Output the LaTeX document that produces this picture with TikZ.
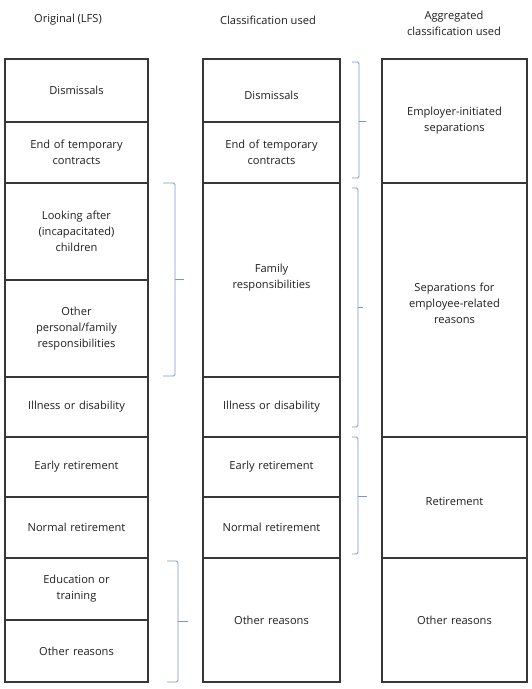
\documentclass[tikz,border=0pt]{standalone}
\usepackage{fontspec}
\setmainfont{Open Sans}

\definecolor{boxgrey}{RGB}{55,55,55}
\definecolor{braceblue}{RGB}{125,150,200}
\definecolor{textgrey}{RGB}{30,30,30}

\tikzset{
    cell/.style={draw=boxgrey, line width=1.3pt, align=center,
        inner sep=0pt, outer sep=0pt, text width=130pt, text=textgrey,
        font=\fontsize{11.1}{16}\selectfont},
    head/.style={align=center, text=textgrey, font=\fontsize{11.1}{16}\selectfont},
    brace/.style={draw=braceblue, line width=0.9pt, rounded corners=1.5pt}
}

\begin{document}
\begin{tikzpicture}[x=1pt, y=-1pt]

    % Page frame
    \useasboundingbox (0,0) rectangle (532,689);

    % Column headings
    \node[head] (hdorig) at (68,20) {Original (LFS)};
    \node[head] (hdclass) at (268,20) {Classification used};
    \node[head] (hdagg) at (454,23) {Aggregated\\classification used};

    % First column: original LFS reasons
    \node[cell, minimum width=143pt, minimum height=63pt] (dis1) at (76.5,90.5) {Dismissals};
    \node[cell, minimum width=143pt, minimum height=61pt] (end1) at (76.5,152.5) {End of temporary\\contracts};
    \node[cell, minimum width=143pt, minimum height=97pt] (look1) at (76.5,231.5) {Looking after\\(incapacitated)\\children};
    \node[cell, minimum width=143pt, minimum height=97pt] (pers1) at (76.5,328.5) {Other\\personal/family\\responsibilities};
    \node[cell, minimum width=143pt, minimum height=60pt] (ill1) at (76.5,407) {Illness or disability};
    \node[cell, minimum width=143pt, minimum height=60pt] (early1) at (76.5,467) {Early retirement};
    \node[cell, minimum width=143pt, minimum height=61pt] (norm1) at (76.5,527.5) {Normal retirement};
    \node[cell, minimum width=143pt, minimum height=62pt] (edu1) at (76.5,589) {Education or\\training};
    \node[cell, minimum width=143pt, minimum height=62pt] (other1) at (76.5,651) {Other reasons};

    % Second column: classification used
    \node[cell, minimum width=137pt, minimum height=63pt] (dis2) at (271.5,90.5) {\\[3pt]Dismissals};
    \node[cell, minimum width=137pt, minimum height=61pt] (end2) at (271.5,152.5) {End of temporary\\contracts};
    \node[cell, minimum width=137pt, minimum height=194pt] (fam2) at (271.5,280) {Family\\responsibilities\\[-8pt]\mbox{}};
    \node[cell, minimum width=137pt, minimum height=60pt] (ill2) at (271.5,407) {Illness or disability};
    \node[cell, minimum width=137pt, minimum height=60pt] (early2) at (271.5,467) {Early retirement};
    \node[cell, minimum width=137pt, minimum height=61pt] (norm2) at (271.5,527.5) {Normal retirement};
    \node[cell, minimum width=137pt, minimum height=124pt] (other2) at (271.5,620) {Other reasons};

    % Third column: aggregated classification
    \node[cell, minimum width=145pt, minimum height=124pt] (emp3) at (454.5,121) {Employer-initiated\\separations};
    \node[cell, minimum width=145pt, minimum height=254pt] (sep3) at (454.5,310) {Separations for\\employee-related\\reasons\\[-3pt]\mbox{}};
    \node[cell, minimum width=145pt, minimum height=121pt] (ret3) at (454.5,497.5) {\\[0pt]Retirement};
    \node[cell, minimum width=145pt, minimum height=124pt] (other3) at (454.5,620) {Other reasons};

    % Braces between first and second column
    \draw[brace] (163,183) -- (175,183) -- (175,376) -- (163,376);
    \draw[brace] (175,279) -- (184,279);

    \draw[brace] (167,561) -- (178,561) -- (178,682) -- (167,682);
    \draw[brace] (178,621) -- (188,621);

    % Braces between second and third column
    \draw[brace] (352,62) -- (359,62) -- (359,178) -- (352,178);
    \draw[brace] (359,121) -- (366,121);

    \draw[brace] (352,188) -- (358,188) -- (358,427) -- (352,427);
    \draw[brace] (358,307) -- (363,307);

    \draw[brace] (352,437) -- (358,437) -- (358,554) -- (352,554);
    \draw[brace] (358,496) -- (367,496);

\end{tikzpicture}
\end{document}
